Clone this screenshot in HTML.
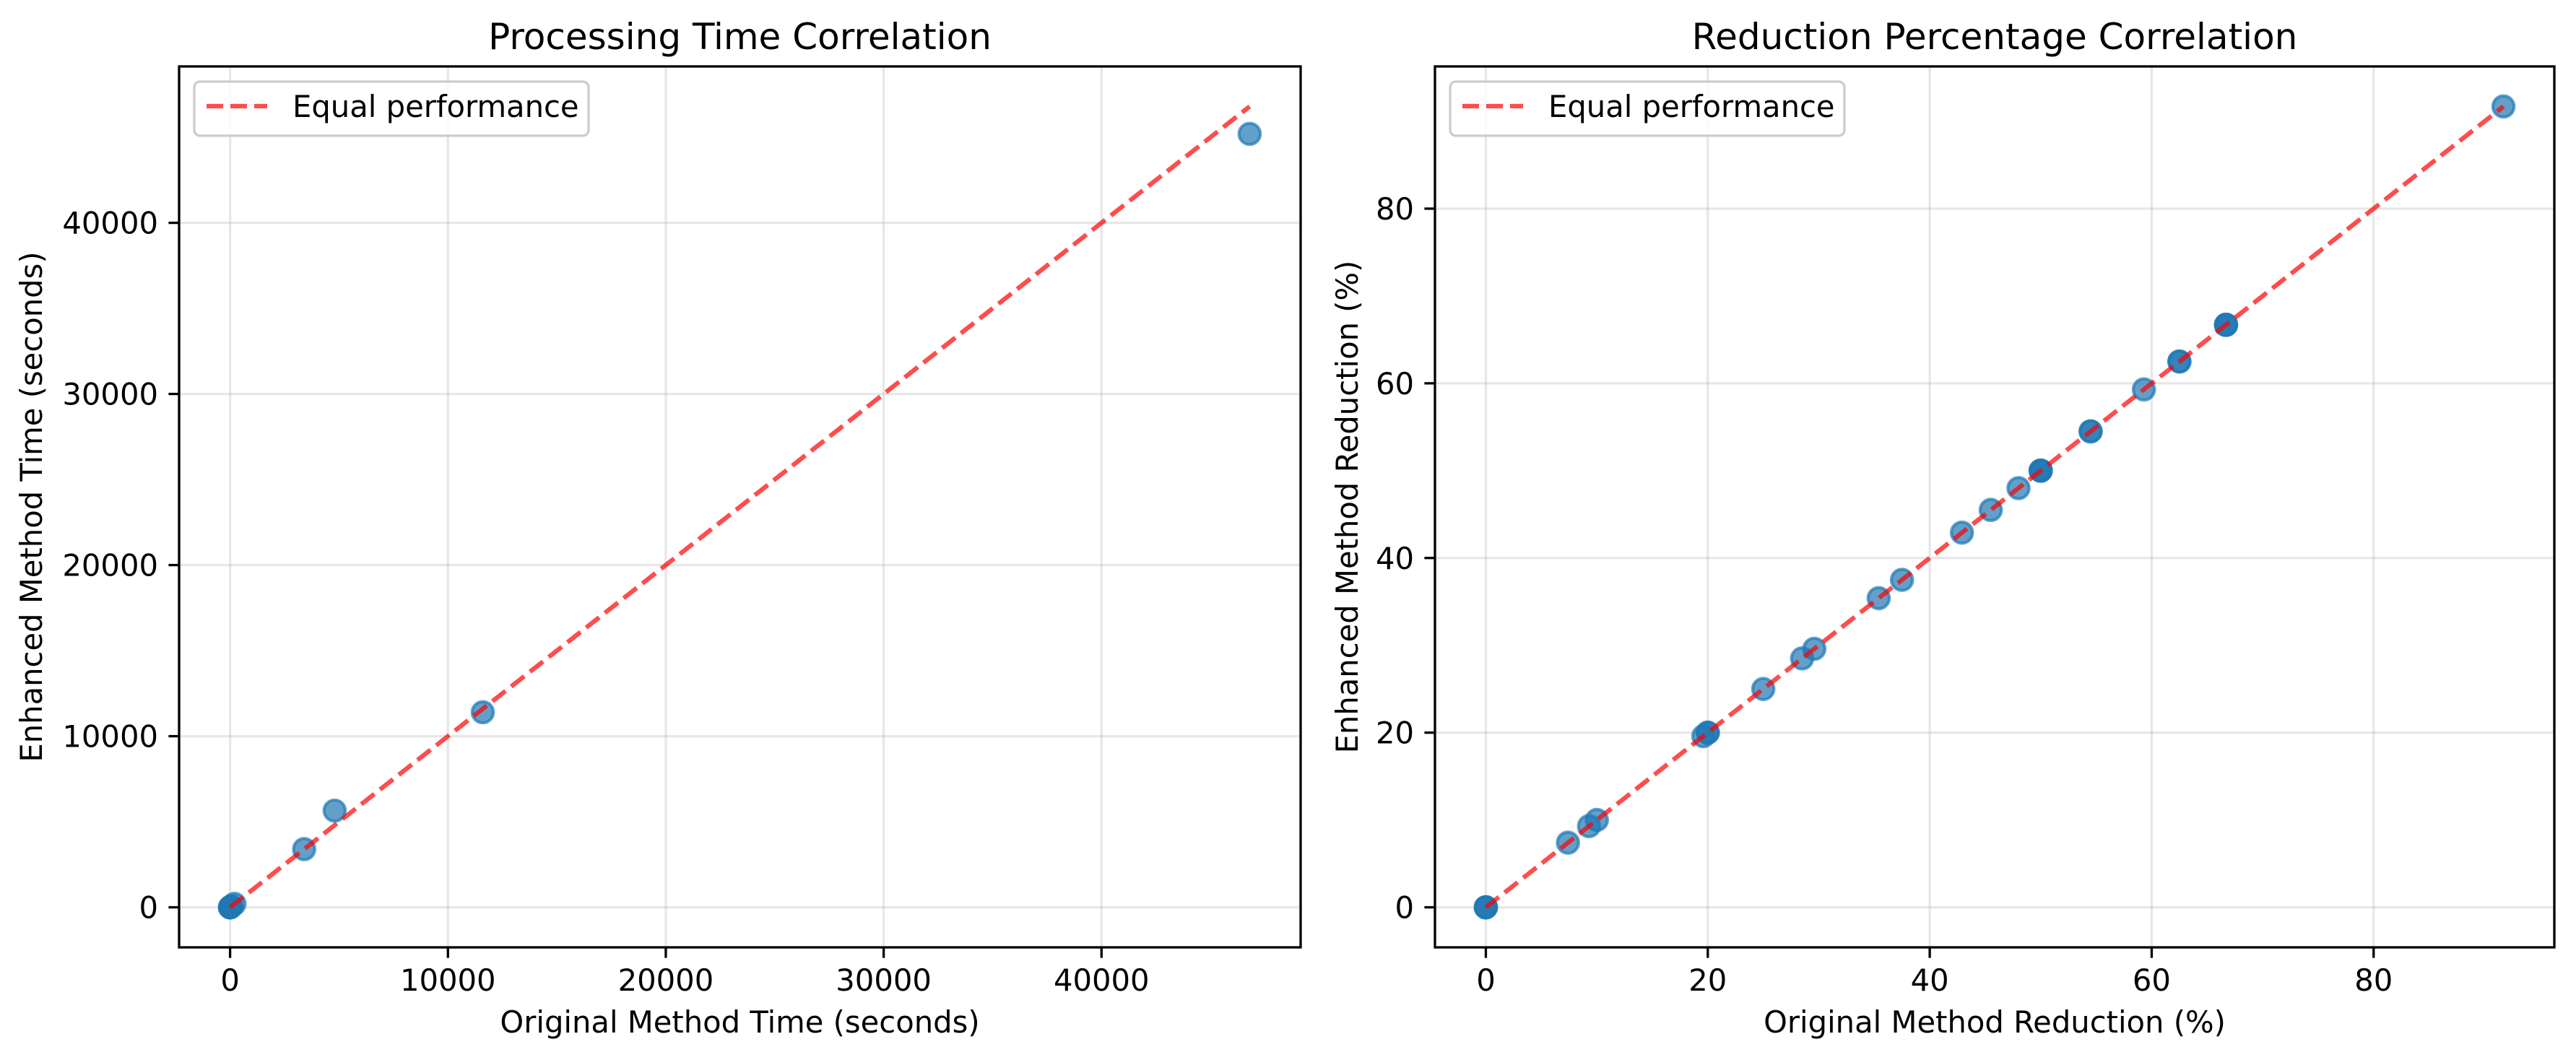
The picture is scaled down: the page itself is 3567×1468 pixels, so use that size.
<!DOCTYPE html>
<html><head><meta charset="utf-8">
<style>
html,body{margin:0;padding:0;background:#fff;}
svg{display:block;font-family:"DejaVu Sans","Liberation Sans",sans-serif;}
</style></head>
<body>
<svg id="fig" width="3567" height="1468" viewBox="0 0 3567 1468" xmlns="http://www.w3.org/2000/svg">
<rect width="3567" height="1468" fill="#fff"/>
</svg>
<script>
// Left chart data
const timeOriginal = [0, 0, 0, 20, 40, 60, 200, 3400, 4800, 11600, 46800];
const timeEnhanced = [0, 0, 0, 20, 40, 60, 200, 3400, 5650, 11400, 45200];
const timeTicks = [0, 10000, 20000, 30000, 40000];
const timeTickLabels = ["0", "10000", "20000", "30000", "40000"];
// Right chart data
const redOriginal = [0, 0, 0, 7.4, 9.3, 10, 19.6, 20, 20, 25, 28.5, 29.6, 35.4, 37.5, 42.9, 45.5, 48, 50, 50, 50, 54.5, 54.5, 59.3, 62.5, 62.5, 66.7, 66.7, 66.7, 91.7];
const redEnhanced = [0, 0, 0, 7.4, 9.3, 10, 19.6, 20, 20, 25, 28.5, 29.6, 35.4, 37.5, 42.9, 45.5, 48, 50, 50, 50, 54.5, 54.5, 59.3, 62.5, 62.5, 66.7, 66.7, 66.7, 91.7];
const redTicks = [0, 20, 40, 60, 80];
const redTickLabels = ["0", "20", "40", "60", "80"];

const NS = "http://www.w3.org/2000/svg";
const fig = document.getElementById('fig');
function mk(tag, attrs, parent) {
  const e = document.createElementNS(NS, tag);
  for (const k in attrs) e.setAttribute(k, attrs[k]);
  (parent || fig).appendChild(e);
  return e;
}

function drawPanel(cfg) {
  const g = mk('g', {});
  
  
  const L = cfg.left, R = cfg.right, T = 92, B = 1312;
  const all = cfg.xs.concat(cfg.ys);
  const mn = Math.min(...all), mx = Math.max(...all);
  const pad = (mx - mn) * 0.05;
  const lo = mn - pad, hi = mx + pad;
  const sx = v => L + (v - lo) / (hi - lo) * (R - L);
  const sy = v => B - (v - lo) / (hi - lo) * (B - T);
  cfg.ticks.forEach((t, i) => {
    const gx = mk('line', {x1: sx(t), x2: sx(t), y1: T, y2: B, stroke: '#b0b0b0', 'stroke-opacity': 0.3, 'stroke-width': 3.3}, g);
    
    
    const gy = mk('line', {x1: L, x2: R, y1: sy(t), y2: sy(t), stroke: '#b0b0b0', 'stroke-opacity': 0.3, 'stroke-width': 3.3}, g);
    
    
    mk('line', {x1: sx(t), x2: sx(t), y1: B, y2: B + 14.6, stroke: '#000', 'stroke-width': 3.3}, g);
    mk('line', {x1: L, x2: L - 14.6, y1: sy(t), y2: sy(t), stroke: '#000', 'stroke-width': 3.3}, g);
    const xl = mk('text', {x: sx(t), y: B + 60, 'font-size': 41.7, 'text-anchor': 'middle', fill: '#000'}, g);
    xl.textContent = cfg.labels[i];
    
    
    const yl = mk('text', {x: L - 29, y: sy(t) + 15, 'font-size': 41.7, 'text-anchor': 'end', fill: '#000'}, g);
    yl.textContent = cfg.labels[i];
    
    
  });
  cfg.xs.forEach((x, i) => {
    const c = mk('circle', {cx: sx(x), cy: sy(cfg.ys[i]), r: 14.7, fill: '#1f77b4', 'fill-opacity': 0.7, stroke: '#1f77b4', 'stroke-opacity': 0.7, 'stroke-width': 4.2}, g);
    
    
  });
  const el = mk('line', {x1: sx(mn), y1: sy(mn), x2: sx(mx), y2: sy(mx), stroke: '#ff0000', 'stroke-opacity': 0.7, 'stroke-width': 6.25, 'stroke-dasharray': '23 10'}, g);
  
  
  const fr = mk('rect', {x: L, y: T, width: R - L, height: B - T, fill: 'none', stroke: '#000', 'stroke-width': 3.3}, g);
  
  
  const tt = mk('text', {x: (L + R) / 2, y: 68, 'font-size': 50, 'text-anchor': 'middle', fill: '#000'}, g);
  tt.textContent = cfg.title;
  
  
  const xt = mk('text', {x: (L + R) / 2, y: 1430, 'font-size': 41.7, 'text-anchor': 'middle', fill: '#000'}, g);
  xt.textContent = cfg.xlabel;
  
  
  const yx = cfg.ylabelX, yy = (T + B) / 2;
  const yt = mk('text', {x: yx, y: yy, 'font-size': 41.7, 'text-anchor': 'middle', fill: '#000', transform: `rotate(-90 ${yx} ${yy})`}, g);
  yt.textContent = cfg.ylabel;
  
  
  const lg = mk('g', {}, g);
  
  
  mk('rect', {x: L + 21, y: 113, width: 546, height: 75, rx: 8, fill: '#fff', 'fill-opacity': 0.8, stroke: '#cccccc', 'stroke-width': 3.3}, lg);
  mk('line', {x1: L + 38, x2: L + 122, y1: 147, y2: 147, stroke: '#ff0000', 'stroke-opacity': 0.7, 'stroke-width': 6.25, 'stroke-dasharray': '23 10'}, lg);
  const lt = mk('text', {x: L + 157, y: 162, 'font-size': 41.7, fill: '#000'}, lg);
  lt.textContent = 'Equal performance';
  
  
}

drawPanel({name: 'processing-time-panel', left: 248, right: 1801, xs: timeOriginal, ys: timeEnhanced, ticks: timeTicks, labels: timeTickLabels,
  title: 'Processing Time Correlation', xlabel: 'Original Method Time (seconds)', ylabel: 'Enhanced Method Time (seconds)', ylabelX: 58});
drawPanel({name: 'reduction-percentage-panel', left: 1987, right: 3537, xs: redOriginal, ys: redEnhanced, ticks: redTicks, labels: redTickLabels,
  title: 'Reduction Percentage Correlation', xlabel: 'Original Method Reduction (%)', ylabel: 'Enhanced Method Reduction (%)', ylabelX: 1880});
</script>
</body></html>
